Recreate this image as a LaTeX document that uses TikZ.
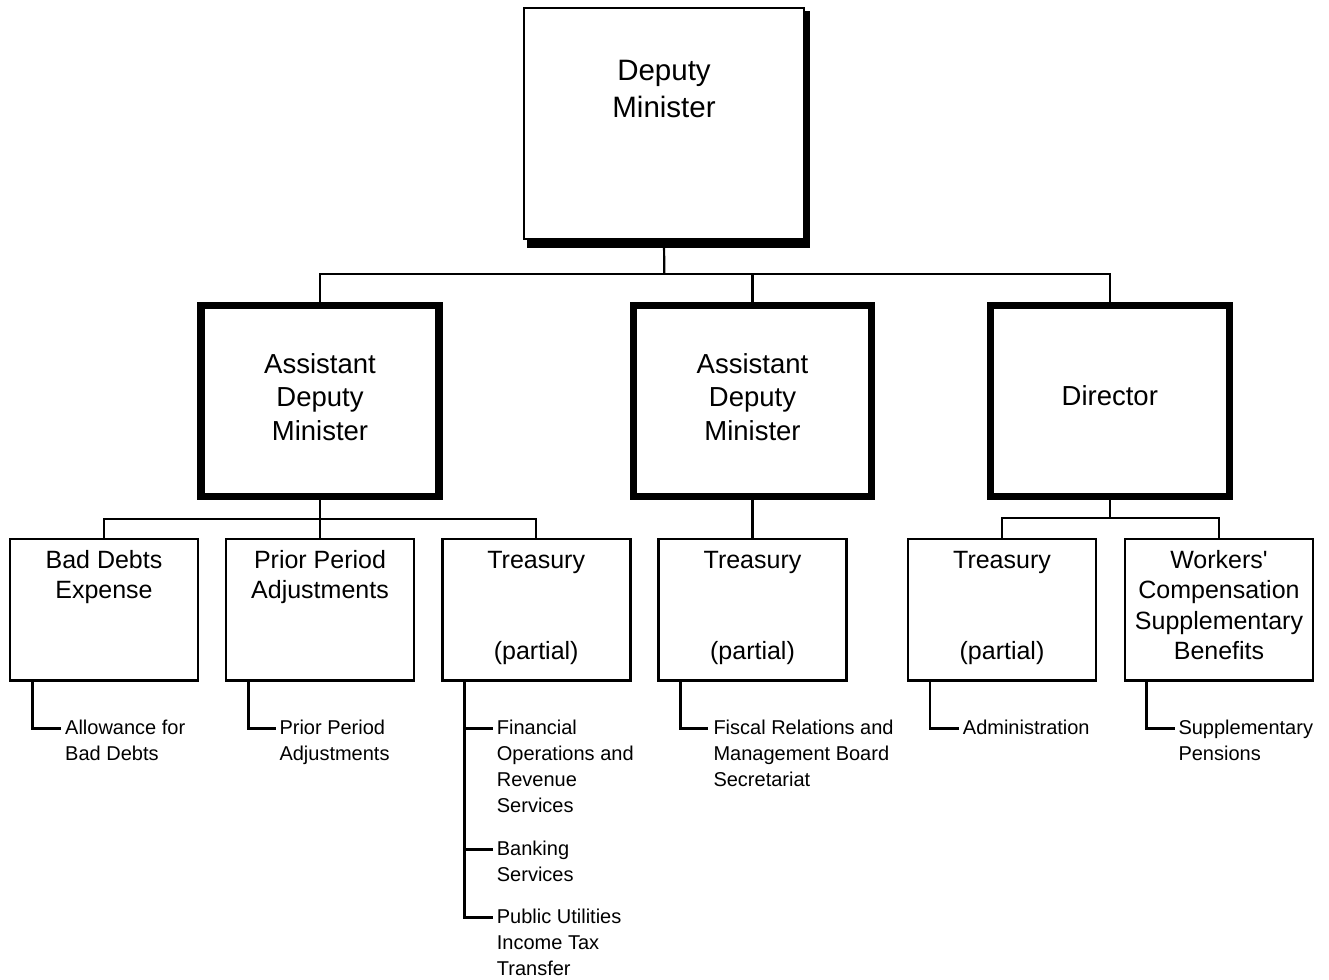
\documentclass[tikz,border=0pt]{standalone}
\usepackage{fontspec}
\setmainfont{Liberation Sans}
\begin{document}
\begin{tikzpicture}[x=1pt,y=-1pt,
  conn/.style={line width=2.2pt},
  sub/.style={line width=2.6pt},
  topbox/.style={draw, fill=white, line width=2pt, minimum width=279.3pt, minimum height=231pt, inner sep=0pt},
  admbox/.style={draw, fill=white, line width=7.3pt, minimum width=238pt, minimum height=191pt, inner sep=0pt},
  lbox/.style={draw, fill=white, line width=2.6pt, minimum width=188pt, minimum height=141.3pt, inner sep=0pt, anchor=north},
  toptext/.style={inner sep=0pt, align=center, anchor=north, font=\fontsize{29.5}{37}\selectfont},
  admtext/.style={inner sep=0pt, align=center, anchor=north, font=\fontsize{27.5}{33.5}\selectfont},
  ltext/.style={inner sep=0pt, align=center, anchor=north, font=\fontsize{25}{30.3}\selectfont},
  stext/.style={inner sep=0pt, align=left, anchor=north west, font=\fontsize{20}{26}\selectfont},
]
\useasboundingbox (0,0) rectangle (1329,979);

% top box with shadow
\fill[black] (527,11.5) rectangle (810,248);
\node[topbox] (dm) at (664,123.8) {};
\node[toptext] (dmt) at (664,54.1) {\strut Deputy\\Minister};

% second level
\node[admbox] (adm1) at (320,400.8) {};
\node[admbox] (adm2) at (752.5,400.8) {};
\node[admbox, minimum width=239pt] (adm3) at (1109.8,400.8) {};
\node[admtext] (adm1t) at (320,349.5) {\strut Assistant\\Deputy\\Minister};
\node[admtext] (adm2t) at (752.5,349.5) {\strut Assistant\\Deputy\\Minister};
\node[admtext] (adm3t) at (1109.8,382.2) {\strut Director};

% third level
\node[lbox] (bd)  at (104,537.7) {};
\node[lbox] (pp)  at (320,537.7) {};
\node[lbox] (tr1) at (536.2,537.7) {};
\node[lbox] (tr2) at (752.5,537.7) {};
\node[lbox] (tr3) at (1002,537.7) {};
\node[lbox] (wc)  at (1219,537.7) {};
\node[ltext] (bdt)  at (104,547.1) {\strut Bad Debts\\Expense};
\node[ltext] (ppt)  at (320,547.1) {\strut Prior Period\\Adjustments};
\node[ltext] (tr1t) at (536.2,547.1) {\strut Treasury\\\strut\\\strut\\(partial)};
\node[ltext] (tr2t) at (752.5,547.1) {\strut Treasury\\\strut\\\strut\\(partial)};
\node[ltext] (tr3t) at (1002,547.1) {\strut Treasury\\\strut\\\strut\\(partial)};
\node[ltext] (wct)  at (1219,547.1) {\strut Workers\textquotesingle\\Compensation\\Supplementary\\Benefits};

% connectors, levels 1-3
\coordinate (j0) at (664.3,274);
\draw[conn] (dm.south) -- (j0);
\draw[conn] (adm1.north) |- (j0) -| (adm3.north);
\draw[conn] (adm2.north) -- (adm2.north |- j0);
\coordinate (j1) at (320,519);
\draw[conn] (adm1.south) -- (j1);
\draw[conn] (bd.north) |- (j1) -| (tr1.north);
\draw[conn] (pp.north) -- (pp.north |- j1);
\draw[conn] (adm2.south) -- (tr2.north);
\coordinate (j3) at (1109.8,518.3);
\draw[conn] (adm3.south) -- (j3);
\draw[conn] (tr3.north) |- (j3) -| (wc.north);

% sub-items
\node[stext] (s1)  at (65,715.8)    {\strut Allowance for\\Bad Debts};
\node[stext] (s2)  at (279.3,715.8) {\strut Prior Period\\Adjustments};
\node[stext] (s3a) at (496.7,716.1) {\strut Financial\\Operations and\\Revenue\\Services};
\node[stext] (s3b) at (496.7,836.8) {\strut Banking\\Services};
\node[stext] (s3c) at (496.7,905.2) {\strut Public Utilities\\Income Tax\\Transfer};
\node[stext] (s4)  at (713.3,716)   {\strut Fiscal Relations and\\Management Board\\Secretariat};
\node[stext] (s5)  at (962.7,716)   {\strut Administration};
\node[stext] (s6)  at (1178.3,716)  {\strut Supplementary\\Pensions};

\coordinate (v1) at (32.3,728.5);   \coordinate (a1) at (61,728.5);
\coordinate (v2) at (248.3,728.5);  \coordinate (a2) at (276,728.5);
\coordinate (v3) at (464.3,917.7);  \coordinate (a3) at (493,728.5);
\coordinate (b3) at (493,849.3);    \coordinate (c3) at (493,917.7);
\coordinate (v4) at (680.7,728.5);  \coordinate (a4) at (707.5,728.5);
\coordinate (v5) at (930,728.5);    \coordinate (a5) at (959,728.5);
\coordinate (v6) at (1146.7,728.5); \coordinate (a6) at (1175,728.5);

\draw[sub] (bd.south -| v1) -- (v1) -- (a1);
\draw[sub] (pp.south -| v2) -- (v2) -- (a2);
\draw[sub] (tr1.south -| v3) -- (v3) -- (c3);
\draw[sub] (v3 |- a3) -- (a3);
\draw[sub] (v3 |- b3) -- (b3);
\draw[sub] (tr2.south -| v4) -- (v4) -- (a4);
\draw[sub] (tr3.south -| v5) -- (v5) -- (a5);
\draw[sub] (wc.south -| v6) -- (v6) -- (a6);
\end{tikzpicture}
\end{document}
